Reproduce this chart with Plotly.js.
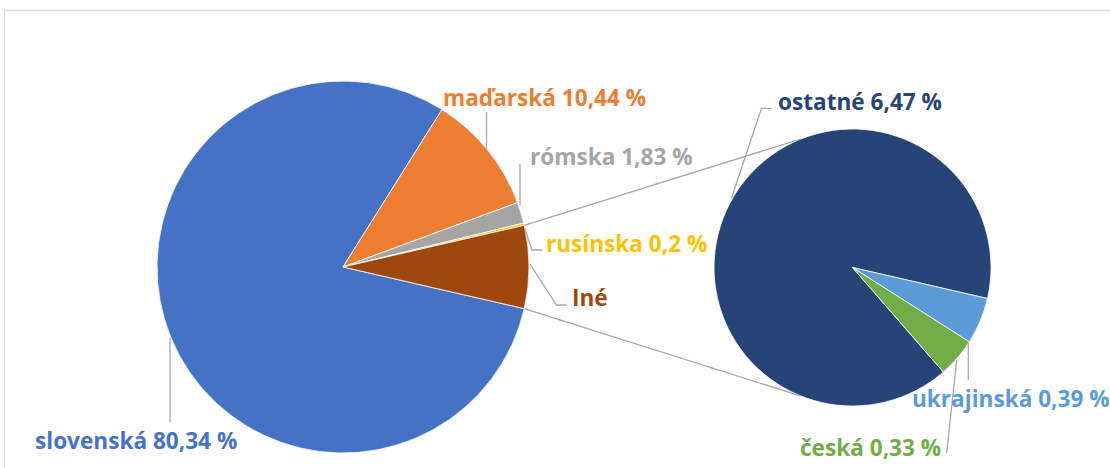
<!DOCTYPE html>
<html>
<head>
<meta charset="utf-8">
<script src="https://cdn.plot.ly/plotly-3.0.1.min.js"></script>
<style>html,body{margin:0;padding:0;background:#fff;}#chart{width:1110px;height:468px;}</style>
</head>
<body>
<div id="chart"></div>
<script>
// ---- data ----
const mainLabels = ["slovenská", "maďarská", "rómska", "rusínska", "Iné"];
const mainValues = [80.34, 10.44, 1.83, 0.2, 7.19];
const mainColors = ["#4472C4", "#ED7D31", "#A5A5A5", "#FFC000", "#9E480E"];
const subLabels = ["ostatné", "ukrajinská", "česká"];
const subValues = [6.47, 0.39, 0.33];
const subColors = ["#264478", "#5B9BD5", "#70AD47"];

// ---- geometry (pixels) ----
const W = 1110, H = 468;
const mainC = {x: 343, y: 267, r: 186};
const subC = {x: 852.5, y: 267.5, r: 138.5};
const px = x => x / W;
const py = y => 1 - y / H;

const mainTotal = mainValues.reduce((a, b) => a + b, 0);
const ineShare = mainValues[4] / mainTotal * 360;
// "Iné" wedge centred at 3 o'clock, clockwise order
const mainRotation = 90 + ineShare / 2;
const subRotation = 139;

function edgePoint(c, angDeg) {
  const a = angDeg * Math.PI / 180;
  return {x: c.x + c.r * Math.sin(a), y: c.y - c.r * Math.cos(a)};
}
const ineStart = 90 - ineShare / 2, ineEnd = 90 + ineShare / 2;
const pA = edgePoint(mainC, ineStart), pB = edgePoint(mainC, ineEnd);
const qA = edgePoint(subC, 338), qB = edgePoint(subC, 202);

const lineStyle = {color: "#A6A6A6", width: 1.3};
function seg(points) {
  return {type: "path", xref: "paper", yref: "paper",
    path: points.map((p, i) => (i ? "L" : "M") + px(p[0]) + "," + py(p[1])).join(" "),
    line: lineStyle};
}

const shapes = [
  {type: "rect", xref: "paper", yref: "paper", x0: px(4.5), y0: -0.02, x1: 1.02, y1: py(10.5),
   line: {color: "#D9D9D9", width: 1.3}, fillcolor: "rgba(0,0,0,0)", layer: "below"},
  seg([[pA.x, pA.y], [qA.x, qA.y]]),
  seg([[pB.x, pB.y], [qB.x, qB.y]]),
  // leader lines
  seg([[486.5, 112], [486.5, 150]]),
  seg([[520, 164], [520, 205]]),
  seg([[524.5, 228], [532, 250], [542, 250]]),
  seg([[530, 264], [556.5, 305], [566.5, 305]]),
  seg([[170, 338], [170, 422]]),
  seg([[771.5, 108.3], [761.5, 108.3], [731.5, 198]]),
  seg([[968.3, 343], [968.3, 380]]),
  seg([[956.7, 360], [946.7, 453]])
];

const fmt = v => String(v).replace(".", ",") + " %";
const mainLabelPos = [[33, 440], [441, 97], [528, 157], [544, 243], [570, 297]];
const subLabelPos = [[776, 101], [910, 398], [798, 447]];
const annotations = [];
const font = "'Open Sans', Lato, sans-serif";
const fsize = 22.6;
mainLabels.forEach((l, i) => {
  annotations.push({xref: "paper", yref: "paper", x: px(mainLabelPos[i][0]), y: py(mainLabelPos[i][1]),
    xanchor: "left", yanchor: "middle", showarrow: false,
    text: "<b>" + (l === "Iné" ? l : l + " " + fmt(mainValues[i])) + "</b>",
    font: {family: font, size: fsize, color: mainColors[i]}});
});
subLabels.forEach((l, i) => {
  annotations.push({xref: "paper", yref: "paper", x: px(subLabelPos[i][0]), y: py(subLabelPos[i][1]),
    xanchor: "left", yanchor: "middle", showarrow: false,
    text: "<b>" + l + " " + fmt(subValues[i]) + "</b>",
    font: {family: font, size: fsize, color: subColors[i]}});
});

const traces = [
  {type: "pie", labels: mainLabels, values: mainValues, sort: false, direction: "clockwise",
   rotation: mainRotation, textinfo: "none", hoverinfo: "label+value",
   marker: {colors: mainColors, line: {color: "#FFFFFF", width: 0.8}},
   domain: {x: [px(mainC.x - mainC.r), px(mainC.x + mainC.r)], y: [py(mainC.y + mainC.r), py(mainC.y - mainC.r)]}},
  {type: "pie", labels: subLabels, values: subValues, sort: false, direction: "clockwise",
   rotation: subRotation, textinfo: "none", hoverinfo: "label+value",
   marker: {colors: subColors, line: {color: "#FFFFFF", width: 0.8}},
   domain: {x: [px(subC.x - subC.r), px(subC.x + subC.r)], y: [py(subC.y + subC.r), py(subC.y - subC.r)]}}
];

Plotly.newPlot("chart", traces, {
  width: W, height: H, margin: {l: 0, r: 0, t: 0, b: 0},
  paper_bgcolor: "#FFFFFF", showlegend: false,
  shapes: shapes, annotations: annotations
}, {displayModeBar: false, staticPlot: true});
</script>
</body>
</html>
